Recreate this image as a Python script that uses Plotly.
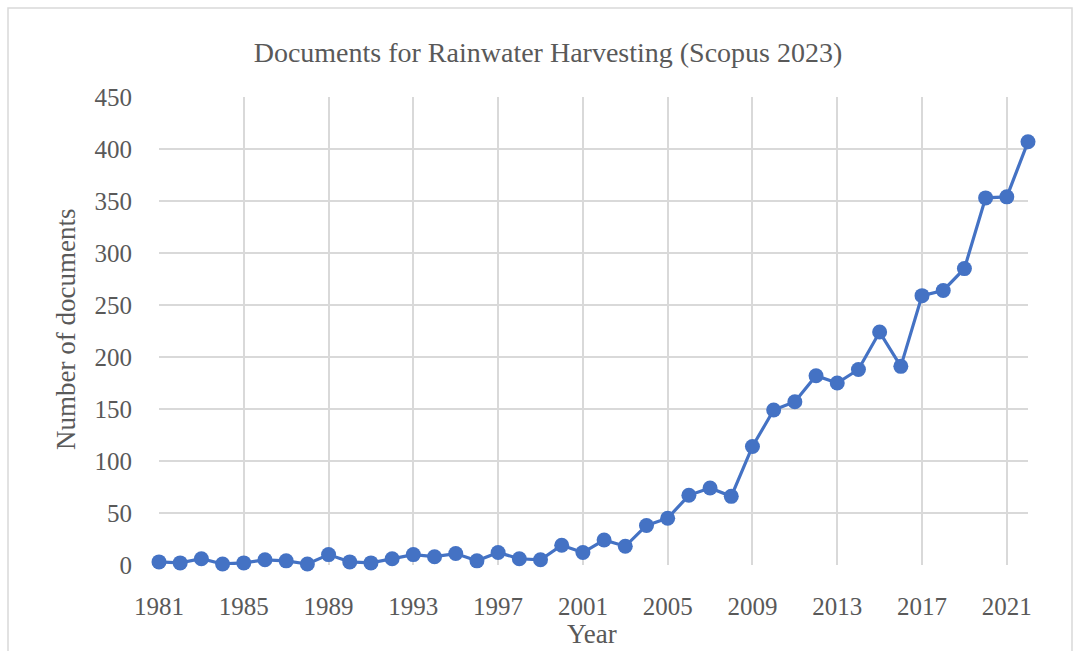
import plotly.graph_objects as go

# Scopus document counts per year for "rainwater harvesting"
years = list(range(1981, 2023))
documents = [3, 2, 6, 1, 2, 5, 4, 1, 10, 3,
             2, 6, 10, 8, 11, 4, 12, 6, 5, 19,
             12, 24, 18, 38, 45, 67, 74, 66, 114, 149,
             157, 182, 175, 188, 224, 191, 259, 264, 285, 353,
             354, 407]
year_ticks = list(range(1981, 2022, 4))
count_ticks = list(range(0, 451, 50))

W, H = 1075, 651
L, R, T, B = 159, 47, 97, 86
pw, ph = W - L - R, H - T - B

def px_x(x):
    return (x - L) / pw

def px_y(y):
    return (H - B - y) / ph

serif = "Liberation Serif, Times New Roman, serif"
grey_text = "#595959"
grid = "#d9d9d9"

fig = go.Figure()
fig.add_trace(go.Scatter(
    x=years, y=documents, mode="lines+markers",
    line=dict(color="#4472C4", width=3.2),
    marker=dict(color="#4472C4", size=15),
    cliponaxis=False, showlegend=False,
))

# outer chart frame
fig.add_shape(type="rect", xref="paper", yref="paper",
              x0=px_x(8), x1=px_x(1072), y0=px_y(660), y1=px_y(8),
              line=dict(color="#d9d9d9", width=1.5), layer="below")

# axis titles
fig.add_annotation(text="Year", xref="paper", yref="paper",
                   x=px_x(592), y=px_y(634), showarrow=False,
                   xanchor="center", yanchor="middle",
                   font=dict(family=serif, size=27, color=grey_text))
fig.add_annotation(text="Number of documents", xref="paper", yref="paper",
                   x=px_x(66), y=px_y(330), showarrow=False, textangle=-90,
                   xanchor="center", yanchor="middle",
                   font=dict(family=serif, size=27, color=grey_text))

fig.update_layout(
    width=W, height=H,
    margin=dict(l=L, r=R, t=T, b=B),
    paper_bgcolor="white", plot_bgcolor="white",
    font=dict(family=serif, color=grey_text, size=25),
    title=dict(text="Documents for Rainwater Harvesting (Scopus 2023)",
               x=px_x(548), xref="paper", xanchor="center",
               y=1 - 52 / H, yanchor="middle",
               font=dict(family=serif, size=28, color=grey_text)),
    xaxis=dict(range=[1981, 2022], tickvals=year_ticks,
               ticktext=[str(v) for v in year_ticks],
               showgrid=True, gridcolor=grid, gridwidth=1.5,
               zeroline=False, showline=False, ticks="",
               ticklabelstandoff=24,
               tickfont=dict(size=25, color=grey_text)),
    yaxis=dict(range=[0, 450], tickvals=count_ticks,
               showgrid=True, gridcolor=grid, gridwidth=1.5,
               zeroline=False, showline=False, ticks="",
               ticklabelstandoff=26,
               tickfont=dict(size=25, color=grey_text)),
)

fig.write_html("out.html")
